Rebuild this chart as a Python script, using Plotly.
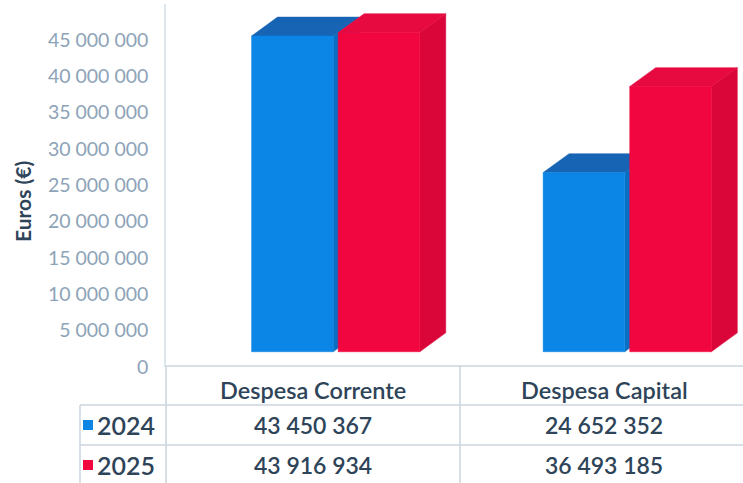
import plotly.graph_objects as go

# ---- data ----
categories = ["Despesa Corrente", "Despesa Capital"]
series_names = ["2024", "2025"]
values_2024 = [43450367, 24652352]
values_2025 = [43916934, 36493185]
tick_values = [0, 5000000, 10000000, 15000000, 20000000, 25000000, 30000000, 35000000, 40000000, 45000000]
y_title = "Euros (€)"

# ---- style ----
W, H = 743, 483
MT = 4
PH = H - MT
FONT = "Lato"
TICK_COLOR = "#8DA3B8"
TEXT_COLOR = "#2E4459"
GRID_COLOR = "#CBD5DE"
colors = {
    "2024": {"front": "#0B86E6", "top": "#1763B4", "side": "#0A6FC4"},
    "2025": {"front": "#F2063F", "top": "#E70A40", "side": "#DA0538"},
}
BAR_W = 0.28
GAP = 0.017
DX = 0.089          # depth in x units
DY = 2.6e6          # depth in y units
BASE = 2.1e6        # floor offset of front faces
X_RANGE = [-0.582, 1.397]
Y_RANGE = [0, 49.95e6]

def px_x(p):
    return p / W

def px_y(p):
    return 1 - (p - MT) / PH

fig = go.Figure()

def add_poly(xs, ys, color):
    fig.add_trace(go.Scatter(
        x=xs + [xs[0]], y=ys + [ys[0]], mode="lines", fill="toself",
        fillcolor=color, line=dict(width=0.5, color=color),
        hoverinfo="skip", showlegend=False))

series = [("2024", values_2024, -1), ("2025", values_2025, 1)]
for ci, cat in enumerate(categories):
    for name, vals, side in series:
        v = vals[ci]
        if side < 0:
            x0 = ci - GAP / 2 - BAR_W
        else:
            x0 = ci + GAP / 2
        x1 = x0 + BAR_W
        b = BASE
        t = BASE + v
        c = colors[name]
        add_poly([x1, x1 + DX, x1 + DX, x1], [b, b + DY, t + DY, t], c["side"])
        add_poly([x0, x1, x1 + DX, x0 + DX], [t, t, t + DY, t + DY], c["top"])
        add_poly([x0, x1, x1, x0], [b, b, t, t], c["front"])

fmt = lambda v: f"{v:,}".replace(",", " ")

fig.update_layout(
    width=W, height=H, autosize=False,
    margin=dict(l=0, r=0, t=MT, b=0, pad=0, autoexpand=False),
    paper_bgcolor="white", plot_bgcolor="white",
    showlegend=False,
    xaxis=dict(domain=[px_x(166), 1], range=X_RANGE, showgrid=False,
               zeroline=False, showticklabels=False, showline=False,
               automargin=False, ticks=""),
    yaxis=dict(domain=[px_y(367), 1], range=Y_RANGE, showgrid=False,
               zeroline=False, tickvals=tick_values, automargin=False,
               ticktext=[fmt(v) for v in tick_values],
               tickfont=dict(family=FONT, size=19.5, color=TICK_COLOR),
               ticks="", ticklabelstandoff=12,
               showline=True, linecolor="#DCE6EC", linewidth=1.5),
)

def ann(x, y, text, size, xanchor="center", angle=0):
    fig.add_annotation(x=px_x(x), y=px_y(y), xref="paper", yref="paper",
                       text=text, showarrow=False, xanchor=xanchor, yanchor="middle",
                       textangle=angle,
                       font=dict(family=FONT, size=size, color=TEXT_COLOR, weight=600))

# y title
ann(22, 202, f"<b>{y_title}</b>", 21, angle=-90)

# table lines
line = dict(color=GRID_COLOR, width=1.5)
for (xa, ya, xb, yb) in [
    (166, 366, 743, 366), (80, 405, 743, 405), (80, 445, 743, 445),
    (166, 366, 166, 483), (460, 366, 460, 483), (80, 405, 80, 483),
]:
    fig.add_shape(type="line", xref="paper", yref="paper",
                  x0=px_x(xa), y0=px_y(ya), x1=px_x(xb), y1=px_y(yb), line=line)

col_centers = [313, 604]
row_centers = [425, 465]
for ci, cat in enumerate(categories):
    ann(col_centers[ci], 390, cat, 23.5)

for ri, (name, vals, _) in enumerate(series):
    yc = row_centers[ri]
    for ci in range(len(categories)):
        ann(col_centers[ci], yc, fmt(vals[ci]), 23)
    fig.add_shape(type="rect", xref="paper", yref="paper",
                  x0=px_x(83), x1=px_x(93), y0=px_y(yc - 5), y1=px_y(yc + 5),
                  fillcolor=colors[name]["front"], line=dict(width=0))
    ann(95, yc, name, 25, xanchor="left")

post = (
    "document.documentElement.style.margin='0';"
    "document.documentElement.style.overflow='hidden';"
    "document.body.style.margin='0';"
    "document.body.style.overflow='hidden';"
)
fig.write_html("out.html", post_script=post,
               config={"displayModeBar": False})
